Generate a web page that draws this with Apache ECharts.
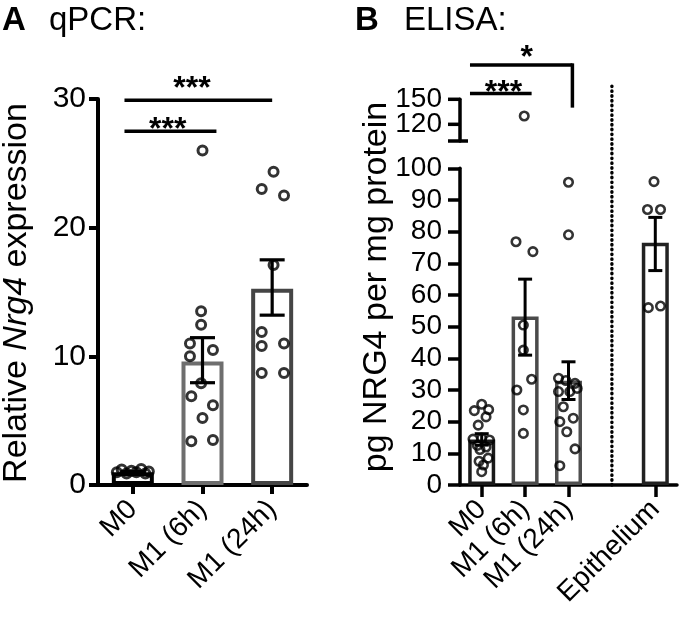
<!DOCTYPE html>
<html><head><meta charset="utf-8">
<script src="https://cdn.jsdelivr.net/npm/echarts@6/dist/echarts.min.js"></script>
<style>html,body{margin:0;padding:0;background:#fff}#c{width:680px;height:629px}</style>
</head><body><div id="c"></div><script>
// ---------- Panel A: qPCR ----------
const catsA = ['M0', 'M1 (6h)', 'M1 (24h)'];
const meanA = [1.0, 9.6, 15.25];
const errLoA = [0.95, 7.95, 13.2];
const errHiA = [1.05, 11.45, 17.5];
const yTicksA = [0, 10, 20, 30];
// points: [horizontal jitter in category units, value]
const ptsA_M0 = [[-0.23,1.0],[-0.16,1.2],[-0.09,0.9],[-0.02,1.1],[0.05,1.0],[0.12,1.25],[0.18,0.9],[0.23,1.05]];
const ptsA_M16 = [[0,26.0],[-0.02,13.5],[-0.02,12.45],[-0.18,11.0],[-0.18,10.0],[0.15,10.5],[-0.02,7.9],[-0.16,6.9],[0.15,6.2],[0,5.2],[-0.16,3.4],[0.15,3.5]];
const ptsA_M124 = [[0.02,24.35],[-0.15,23.0],[0.17,22.5],[0.02,17.1],[-0.15,11.9],[-0.15,10.8],[0.17,11.0],[-0.15,8.7],[0.17,8.7]];
const bracketsA = [[-0.12, 2.0, 29.9], [-0.12, 1.2, 27.5]];
const starsA = [[0.85, 30.8, '***'], [0.5, 27.6, '***']];

// ---------- Panel B: ELISA ----------
const catsB = ['M0', 'M1 (6h)', 'M1 (24h)', '', 'Epithelium'];
const meanB = [14.4, 53.2, 32.9, null, 76.5];
const errLoB = [12.6, 41.0, 27.0, null, 67.7];
const errHiB = [16.2, 65.0, 38.9, null, 84.5];
const yTicksBUpper = [100, 120, 150];   // ticks of the upper (broken) axis segment
const yLabelsBUpper = [120, 150];       // labelled ticks of that segment
const ptsB_M0 = [[0,25.5],[0.16,23.8],[-0.17,23.5],[0.1,21.5],[-0.08,18.9],[-0.2,14.5],[0.18,14.2],[0,14.8],[-0.1,12.5],[0.1,12],[-0.04,11.2],[0.15,8.5],[-0.06,7.5],[0.04,6.3],[0,4.2]];
const ptsB_M16 = [[-0.02,130],[-0.21,76.8],[0.18,73.7],[-0.04,50.5],[-0.04,42.6],[0.15,33.4],[-0.19,30],[-0.04,23.7],[-0.04,16.3]];
const ptsB_M124 = [[0,95.6],[0,79],[-0.23,33.7],[0.15,32.1],[-0.06,33],[-0.23,29.5],[0.03,29.5],[0.2,30.5],[-0.12,24.7],[0.11,21.1],[-0.2,20],[-0.04,16.8],[0.15,11.4],[-0.2,6.1]];
const ptsB_Epi = [[-0.03,95.8],[-0.18,87],[0.12,87],[-0.16,56],[0.12,56.5]];
// [x1, x2, y, dropTo]
const bracketsB = [[-0.27, 1.15, 157, null], [-0.27, 2.09, 191, 140]];
const starsB = [[0.5, 157, '***'], [1.04, 199.5, '*']];
const dividerB = [3, 0, 126]; // x, from, to

// ---------- styling ----------
const FF = '"Liberation Sans", Arial, Helvetica, sans-serif';
const barColA = ['#000000', '#6e6e6e', '#454545'];
const barColB = ['#1a1a1a', '#4a4a4a', '#505050', '#000', '#222222'];

function toPts(groups, filter) {
  const out = [];
  groups.forEach((g, ci) => g.forEach(p => { if (!filter || filter(p[1])) out.push([ci + p[0], p[1]]); }));
  return out;
}
function errData(lo, hi) {
  const out = [];
  lo.forEach((l, i) => { if (l != null) out.push([i, l, hi[i]]); });
  return out;
}
function errRender(cap, lw) {
  return function (params, api) {
    const x = api.value(0);
    const a = api.coord([x, api.value(1)]), b = api.coord([x, api.value(2)]);
    const st = { stroke: '#000', lineWidth: lw };
    return { type: 'group', children: [
      { type: 'line', shape: { x1: a[0], y1: a[1], x2: b[0], y2: b[1] }, style: st },
      { type: 'line', shape: { x1: a[0] - cap / 2, y1: a[1], x2: a[0] + cap / 2, y2: a[1] }, style: st },
      { type: 'line', shape: { x1: b[0] - cap / 2, y1: b[1], x2: b[0] + cap / 2, y2: b[1] }, style: st }
    ] };
  };
}
function bracketRender(list, lw) {
  return function (params, api) {
    const b = list[params.dataIndex];
    const p1 = api.coord([b[0], b[2]]), p2 = api.coord([b[1], b[2]]);
    const st = { stroke: '#000', lineWidth: lw };
    const ch = [{ type: 'line', shape: { x1: p1[0], y1: p1[1], x2: p2[0], y2: p2[1] }, style: st }];
    if (b[3] != null) {
      const p3 = api.coord([b[1], b[3]]);
      ch.push({ type: 'line', shape: { x1: p2[0], y1: p2[1] - lw / 2, x2: p3[0], y2: p3[1] }, style: st });
    }
    return { type: 'group', children: ch };
  };
}
function starRender(list, size) {
  return function (params, api) {
    const s = list[params.dataIndex];
    const p = api.coord([s[0], s[1]]);
    return { type: 'text', x: p[0], y: p[1], style: { text: s[2], fill: '#000', fontSize: size, fontWeight: 'bold', fontFamily: FF, align: 'center', verticalAlign: 'middle' } };
  };
}
// ticks + labels of the upper broken-axis segment, positioned through the axis scale
function upperAxisRender(params, api) {
  const v = api.value(1);
  const p = api.coord([-0.5, v]);
  const isEnd = v === yTicksBUpper[0];
  const ch = [{ type: 'line', shape: { x1: p[0] - 12, y1: p[1], x2: p[0] + (isEnd ? 8 : 0), y2: p[1] },
    style: { stroke: '#000', lineWidth: 3.5 } }];
  if (yLabelsBUpper.indexOf(v) >= 0) {
    ch.push({ type: 'text', x: p[0] - 18, y: p[1], style: { text: String(v), fontSize: 28, fontFamily: FF, fill: '#000', align: 'right', verticalAlign: 'middle' } });
  }
  return { type: 'group', children: ch };
}

const ptStyleA = { color: 'rgba(255,255,255,0)', borderColor: '#000', borderWidth: 3 };
const ptStyleB = { color: 'rgba(255,255,255,0)', borderColor: '#000', borderWidth: 2.6 };

const labelX = { rotate: 45, fontSize: 28, color: '#000', fontFamily: FF, margin: 20, interval: 0, hideOverlap: false };

const option = {
  animation: false,
  backgroundColor: '#fff',
  grid: [
    { left: 98, top: 99, width: 209, height: 386 },
    { left: 460, top: 168.3, width: 217, height: 316.7 },
    { left: 460, top: 99.3, width: 217, height: 41.7 }
  ],
  xAxis: [
    { type: 'category', gridIndex: 0, data: catsA,
      axisLine: { show: true, onZero: false, lineStyle: { color: '#000', width: 4 } },
      axisTick: { show: true, alignWithLabel: true, length: 9, lineStyle: { color: '#000', width: 4 } },
      axisLabel: labelX, splitLine: { show: false } },
    { type: 'value', gridIndex: 0, min: -0.5, max: 2.5, show: false },
    { type: 'category', gridIndex: 1, data: catsB,
      axisLine: { show: true, onZero: false, lineStyle: { color: '#000', width: 3.5 } },
      axisTick: { show: true, alignWithLabel: true, length: 12, interval: (i, v) => v !== '', lineStyle: { color: '#000', width: 3.5 } },
      axisLabel: labelX, splitLine: { show: false } },
    { type: 'value', gridIndex: 1, min: -0.5, max: 4.5, show: false },
    { type: 'value', gridIndex: 2, min: -0.5, max: 4.5, show: false }
  ],
  yAxis: [
    { type: 'value', gridIndex: 0, min: yTicksA[0], max: yTicksA[yTicksA.length - 1], interval: 10,
      axisLine: { show: true, onZero: false, lineStyle: { color: '#000', width: 4 } },
      axisTick: { show: true, length: 9, lineStyle: { color: '#000', width: 4 } },
      axisLabel: { fontSize: 30, color: '#000', fontFamily: FF, margin: 12, showMinLabel: true, showMaxLabel: true, hideOverlap: false },
      splitLine: { show: false } },
    { type: 'value', gridIndex: 1, min: 0, max: 100, interval: 10,
      axisLine: { show: true, onZero: false, lineStyle: { color: '#000', width: 3.5 } },
      axisTick: { show: true, length: 12, lineStyle: { color: '#000', width: 3.5 } },
      axisLabel: { fontSize: 28, color: '#000', fontFamily: FF, margin: 18, showMinLabel: true, showMaxLabel: true, hideOverlap: false },
      splitLine: { show: false } },
    { type: 'value', gridIndex: 2, min: 100, max: 150,
      axisLine: { show: true, onZero: false, lineStyle: { color: '#000', width: 3.5 } },
      axisTick: { show: false }, axisLabel: { show: false }, splitLine: { show: false } }
  ],
  series: [
    // Panel A
    { type: 'bar', xAxisIndex: 0, yAxisIndex: 0, barWidth: 42, z: 2,
      data: meanA.map((v, i) => ({ value: v, itemStyle: { color: '#fff', borderColor: barColA[i], borderWidth: 4 } })) },
    { type: 'scatter', xAxisIndex: 1, yAxisIndex: 0, symbol: 'circle', symbolSize: 9, z: 3,
      itemStyle: ptStyleA, data: toPts([ptsA_M0, ptsA_M16, ptsA_M124]) },
    { type: 'custom', xAxisIndex: 1, yAxisIndex: 0, z: 4, clip: false,
      renderItem: errRender(25, 3.2), data: errData(errLoA, errHiA) },
    { type: 'custom', xAxisIndex: 1, yAxisIndex: 0, z: 4, clip: false,
      renderItem: bracketRender(bracketsA, 3.5), data: bracketsA.map(b => [b[0], b[2]]) },
    { type: 'custom', xAxisIndex: 1, yAxisIndex: 0, z: 4, clip: false,
      renderItem: starRender(starsA, 32), data: starsA.map(s => [s[0], s[1]]) },
    // Panel B lower
    { type: 'bar', xAxisIndex: 2, yAxisIndex: 1, barWidth: 27, z: 2,
      data: meanB.map((v, i) => v == null ? '-' : ({ value: v, itemStyle: { color: '#fff', borderColor: barColB[i], borderWidth: 3.5 } })) },
    { type: 'scatter', xAxisIndex: 3, yAxisIndex: 1, symbol: 'circle', symbolSize: 8.5, z: 3,
      itemStyle: ptStyleB, data: toPts([ptsB_M0, ptsB_M16, ptsB_M124, [], ptsB_Epi], v => v <= 100) },
    { type: 'custom', xAxisIndex: 3, yAxisIndex: 1, z: 4, clip: false,
      renderItem: errRender(14, 3), data: errData(errLoB, errHiB) },
    { type: 'custom', xAxisIndex: 3, yAxisIndex: 1, z: 4, clip: false,
      renderItem: function (params, api) {
        const a = api.coord([api.value(0), api.value(1)]), b = api.coord([api.value(0), api.value(2)]);
        return { type: 'line', shape: { x1: a[0], y1: a[1], x2: b[0], y2: b[1] },
          style: { stroke: '#000', lineWidth: 3.4, lineDash: [0.5, 4.3], lineCap: 'round' } };
      }, data: [dividerB] },
    // Panel B upper
    { type: 'custom', xAxisIndex: 4, yAxisIndex: 2, z: 5, clip: false,
      renderItem: upperAxisRender, data: yTicksBUpper.map(v => [-0.5, v]) },
    { type: 'scatter', xAxisIndex: 4, yAxisIndex: 2, symbol: 'circle', symbolSize: 8.5, z: 3,
      itemStyle: ptStyleB, data: toPts([ptsB_M0, ptsB_M16, ptsB_M124, [], ptsB_Epi], v => v > 100) },
    { type: 'custom', xAxisIndex: 4, yAxisIndex: 2, z: 4, clip: false,
      renderItem: bracketRender(bracketsB, 3.5), data: bracketsB.map(b => [b[0], b[2]]) },
    { type: 'custom', xAxisIndex: 4, yAxisIndex: 2, z: 4, clip: false,
      renderItem: starRender(starsB, 32), data: starsB.map(s => [s[0], s[1]]) }
  ],
  graphic: [
    { type: 'text', x: 2, y: 21, style: { text: 'A', fontSize: 33, fontWeight: 'bold', fontFamily: FF, fill: '#000', verticalAlign: 'middle' } },
    { type: 'text', x: 49, y: 21, style: { text: 'qPCR:', fontSize: 33, fontFamily: FF, fill: '#000', verticalAlign: 'middle' } },
    { type: 'text', x: 355, y: 21, style: { text: 'B', fontSize: 33, fontWeight: 'bold', fontFamily: FF, fill: '#000', verticalAlign: 'middle' } },
    { type: 'text', x: 404, y: 21, style: { text: 'ELISA:', fontSize: 33, fontFamily: FF, fill: '#000', verticalAlign: 'middle' } },
    { type: 'text', x: 17, y: 293, rotation: Math.PI / 2,
      style: { text: 'Relative {i|Nrg4} expression', fontSize: 34, fontFamily: FF, fill: '#000', align: 'center', verticalAlign: 'middle',
        rich: { i: { fontStyle: 'italic', fontSize: 34, fontFamily: FF, fill: '#000' } } } },
    { type: 'text', x: 377, y: 287, rotation: Math.PI / 2,
      style: { text: 'pg NRG4 per mg protein', fontSize: 34, fontFamily: FF, fill: '#000', align: 'center', verticalAlign: 'middle' } }
  ]
};
const chart = echarts.init(document.getElementById('c'), null, { renderer: 'canvas' });
chart.setOption(option);
</script></body></html>
